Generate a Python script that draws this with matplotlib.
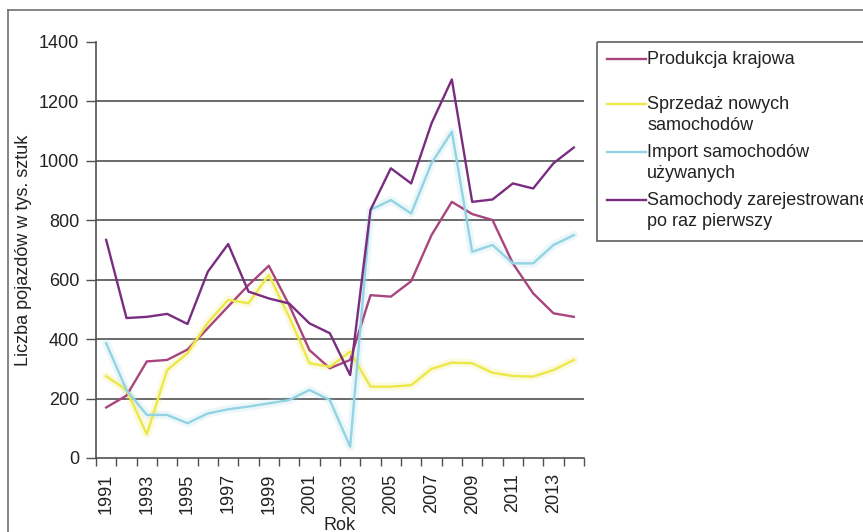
import matplotlib
matplotlib.use("Agg")
import matplotlib.pyplot as plt
import numpy as np
from matplotlib.lines import Line2D
from matplotlib.patches import Rectangle

plt.rcParams["font.family"] = ["Liberation Sans", "DejaVu Sans"]

years = list(range(1991, 2015))
produkcja = [170, 210, 325, 330, 365, 437, 510, 582, 647, 515, 363, 302,
             330, 548, 543, 595, 750, 862, 821, 801, 655, 554, 487, 475]
sprzedaz = [275, 229, 80, 296, 353, 455, 532, 521, 616, 475, 319, 307,
            358, 240, 240, 245, 300, 321, 319, 287, 276, 274, 296, 330]
import_uzyw = [386, 229, 145, 145, 117, 150, 164, 173, 184, 195, 229, 195,
               38, 835, 868, 823, 992, 1098, 694, 717, 655, 655, 717, 750]
zarejestrowane = [734, 471, 475, 485, 451, 627, 720, 560, 537, 520, 453, 420,
                  279, 835, 975, 924, 1126, 1274, 862, 870, 924, 907, 992, 1045]

series = [
    ("Produkcja krajowa", produkcja, "#a8457f", False),
    ("Sprzedaż nowych\nsamochodów", sprzedaz, "#ece84a", True),
    ("Import samochodów\nużywanych", import_uzyw, "#93d3e3", True),
    ("Samochody zarejestrowane\npo raz pierwszy", zarejestrowane, "#7a2d80", False),
]

FS = 13
TXT = "#222222"
W, H = 863, 532
fig = plt.figure(figsize=(W / 100, H / 100), dpi=100)
fig.patch.set_facecolor("white")

ax = fig.add_axes([96 / W, (H - 458) / H, 488 / W, 416 / H])
x = np.arange(len(years))

for label, vals, color, glow in series:
    if glow:
        ax.plot(x, vals, color=color, lw=6, alpha=0.18, solid_capstyle="round", zorder=2)
    ax.plot(x, vals, color=color, lw=1.7, zorder=3)

ax.set_xlim(-0.5, len(years) - 0.5)
ax.set_ylim(0, 1400)
ax.set_yticks(range(0, 1401, 200))
for v in range(200, 1201, 200):
    ax.axhline(v, color="#505050", lw=1.2, zorder=1)

# category axis: ticks on boundaries, labels for odd years
ax.set_xticks(np.arange(-0.5, len(years)))
ax.set_xticklabels([])
ax.set_xticks(x[::2], minor=True)
ax.set_xticklabels([str(y) for y in years[::2]], minor=True, rotation=90,
                   fontsize=FS, color=TXT)
ax.tick_params(axis="x", which="major", length=6, color="#505050", width=1)
ax.tick_params(axis="x", which="minor", length=0, pad=11)
ax.tick_params(axis="y", length=7, color="#505050", width=1, labelsize=FS,
               labelcolor=TXT, pad=5)

for s in ["top", "right"]:
    ax.spines[s].set_visible(False)
for s in ["left", "bottom"]:
    ax.spines[s].set_color("#505050")
    ax.spines[s].set_linewidth(1.2)

# overlay in pixel coordinates for the frame, axis titles and legend
ov = fig.add_axes([0, 0, 1, 1], zorder=5)
ov.set_xlim(0, W)
ov.set_ylim(H, 0)
ov.axis("off")
ov.patch.set_alpha(0)
ov.add_line(Line2D([8, W], [10, 10], color="#707070", lw=1.2))
ov.add_line(Line2D([8, 8], [10, H], color="#707070", lw=1.2))

ov.text(24, 250, "Liczba pojazdów w tys. sztuk", rotation=90, fontsize=FS,
        ha="center", va="center", color=TXT)
ov.text(340, 525, "Rok", fontsize=FS, ha="center", va="center", color=TXT)

ov.add_patch(Rectangle((597, 42), 280, 199, fill=False, ec="#606060", lw=1.2))
leg_y = [59, 104, 152, 200]
for (label, vals, color, glow), ly in zip(series, leg_y):
    ov.add_line(Line2D([607, 646], [ly, ly], color=color, lw=1.7))
    ov.text(647, ly - 8, label, fontsize=FS, va="top", ha="left",
            linespacing=1.3, color=TXT)

fig.savefig("out.png", dpi=100)
